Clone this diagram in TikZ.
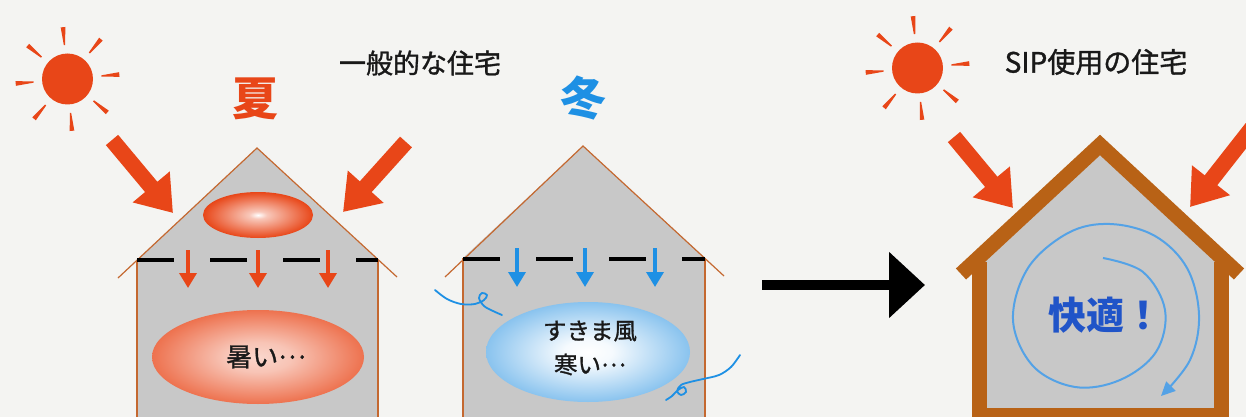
\documentclass[tikz,border=0pt]{standalone}
\usepackage{fontspec}
\newfontfamily\jp{Noto Sans CJK JP}
\newfontfamily\jpm[FakeBold=1.2]{Noto Sans CJK JP}
\usetikzlibrary{arrows.meta}

\definecolor{paper}{RGB}{244,244,242}
\definecolor{sunred}{RGB}{232,70,24}
\definecolor{wallgray}{RGB}{200,200,200}
\definecolor{trim}{RGB}{196,104,48}
\definecolor{frame}{RGB}{184,98,22}
\definecolor{coldblue}{RGB}{30,144,228}
\definecolor{iceblue}{RGB}{92,172,232}
\definecolor{swirlblue}{RGB}{84,162,230}
\definecolor{comfort}{RGB}{32,84,200}

\pgfdeclareradialshading{hotspot}{\pgfpoint{0bp}{0bp}}{color(0bp)=(white); color(4bp)=(white!70!sunred); color(25bp)=(sunred); color(50bp)=(sunred)}
\pgfdeclareradialshading{hotroom}{\pgfpoint{0bp}{0bp}}{color(0bp)=(sunred!22!white); color(8bp)=(sunred!32!white); color(31bp)=(sunred!92!white); color(50bp)=(sunred!92!white)}
\pgfdeclareradialshading{coldroom}{\pgfpoint{0bp}{0bp}}{color(0bp)=(white); color(6bp)=(white!94!iceblue); color(33bp)=(iceblue); color(50bp)=(iceblue)}

% mid-height ellipsis
\newcommand{\middots}{\raisebox{0.3em}{…}}

\begin{document}
\begin{tikzpicture}[x=1pt,y=-1pt,
  heatray/.style={draw=sunred, line width=16pt, -{Triangle[length=34pt,width=46pt]}},
  smallray/.style={line width=3.5pt, -{Triangle[length=15pt,width=17pt]}},
  ceiling/.style={draw=black, line width=3.5pt, dash pattern=on 36.5pt off 36.5pt},
  outline/.style={draw=trim, line width=1.2pt},
  wind/.style={draw=coldblue, line width=1.8pt, line cap=round, line join=round},
  swirl/.style={draw=swirlblue, line width=2pt, -{Triangle[length=14pt,width=13pt]}},
  jplabel/.style={font=\jpm\fontsize{27}{30}\selectfont, inner sep=0pt, text=black!90},
  roomlabel/.style={font=\jpm\fontsize{23.5}{34}\selectfont, inner sep=0pt, text=black!90},
]
\useasboundingbox (0,0) rectangle (1246,417);
\clip (0,0) rectangle (1246,417);
\fill[paper] (0,0) rectangle (1246,417);

% suns
\foreach \cx/\cy in {67.5/79, 917.5/68}{
  \fill[sunred] (\cx,\cy) circle[radius=25.5];
  \foreach \k in {0,...,7}{
    \fill[sunred, shift={(\cx,\cy)}, rotate=\k*45+5]
      (34,-0.7) -- (52,-2.3) -- (52,2.3) -- (34,0.7) -- cycle;
  }
}

% titles
\node[jplabel] (ordinary) at (420,63) {一般的な住宅};
\node[jplabel, font=\jpm\fontsize{28}{30}\selectfont] (sip) at (1096,62) {SIP使用の住宅};
\node[font=\jp\bfseries\fontsize{46}{48}\selectfont, text=sunred, inner sep=0pt] (summer) at (255,99) {夏};
\node[font=\jp\bfseries\fontsize{46}{48}\selectfont, text=coldblue, inner sep=0pt] (winter) at (583,98) {冬};

% ---- ordinary house, summer ----
\fill[wallgray] (137,417) -- (137,260) -- (257,148) -- (378,260) -- (378,417) -- cycle;
\draw[outline] (118,278) -- (257,148) -- (397,277);
\draw[outline] (137,260) -- (137,417) (378,260) -- (378,417);
\draw[ceiling] (137,260) -- (378,260);
\shade[shading=hotspot] (258,215) ellipse[x radius=55, y radius=23];
\foreach \x in {188,258,328}{
  \draw[smallray, draw=sunred, fill=sunred] (\x,250) -- (\x,288);
}
\shade[shading=hotroom] (258,357) ellipse[x radius=106, y radius=47];
\node[roomlabel, font=\jpm\fontsize{26}{28}\selectfont] (hot) at (266,357) {暑い\middots};
\coordinate (sunA) at (112,140);
\coordinate (roofAl) at (173,213);
\coordinate (sunB) at (406,142);
\coordinate (roofAr) at (343,212);
\draw[heatray] (sunA) -- (roofAl);
\draw[heatray] (sunB) -- (roofAr);

% ---- ordinary house, winter ----
\fill[wallgray] (463,417) -- (463,258) -- (583,146) -- (705,258) -- (705,417) -- cycle;
\draw[outline] (445,277) -- (583,146) -- (724,276);
\draw[outline] (463,258) -- (463,417) (705,258) -- (705,417);
\draw[ceiling] (463,259) -- (705,259);
\foreach \x in {517,585,655}{
  \draw[smallray, draw=coldblue, fill=coldblue] (\x,248) -- (\x,287);
}
\shade[shading=coldroom] (588,352) ellipse[x radius=102, y radius=50];
\node[roomlabel, align=center] (cold) at (590,348) {すきま風\\寒い\middots};
% draughts slipping in through the walls
\draw[wind] plot[smooth, tension=0.55] coordinates {(435,290) (447,299) (461,304) (475,304)
  (484,300) (487,295) (482,293) (479,298) (484,306) (493,311) (502,315)};
\draw[wind] plot[smooth, tension=0.55] coordinates {(740,355) (731,367) (719,375) (703,379)
  (690,382) (681,385) (677,391) (681,395) (686,392) (684,387) (678,390) (672,396) (666,400)};

% transition arrow
\coordinate (from) at (762,285);
\coordinate (to) at (925,285);
\draw[line width=10pt, -{Triangle[length=36pt,width=64pt]}] (from) -- (to);

% ---- SIP house ----
\fill[wallgray] (979,416) -- (979,257) -- (1100,145) -- (1221,257) -- (1221,416) -- cycle;
\draw[frame, line width=15pt, line join=miter] (961,274) -- (1100,145) -- (1239,274);
\draw[frame, line width=15pt, line join=miter] (979.5,262) -- (979.5,415) -- (1221,415) -- (1221,262);
\draw[swirl] plot[smooth, tension=0.6] coordinates {
  (1103,258) (1143,272) (1165,310) (1156,352) (1120,380) (1075,387) (1033,366)
  (1013,320) (1028,268) (1068,233) (1110,224) (1155,236) (1187,268) (1199,315)
  (1190,360) (1161,396)};
\node[font=\jp\bfseries\fontsize{38}{40}\selectfont, text=comfort, inner sep=0pt] (comfy) at (1105,315) {快適！};
\coordinate (sunC) at (954,137);
\coordinate (roofCl) at (1013,208);
\coordinate (sunD) at (1252,128);
\coordinate (roofCr) at (1190,207);
\draw[heatray] (sunC) -- (roofCl);
\draw[heatray] (sunD) -- (roofCr);
\end{tikzpicture}
\end{document}
